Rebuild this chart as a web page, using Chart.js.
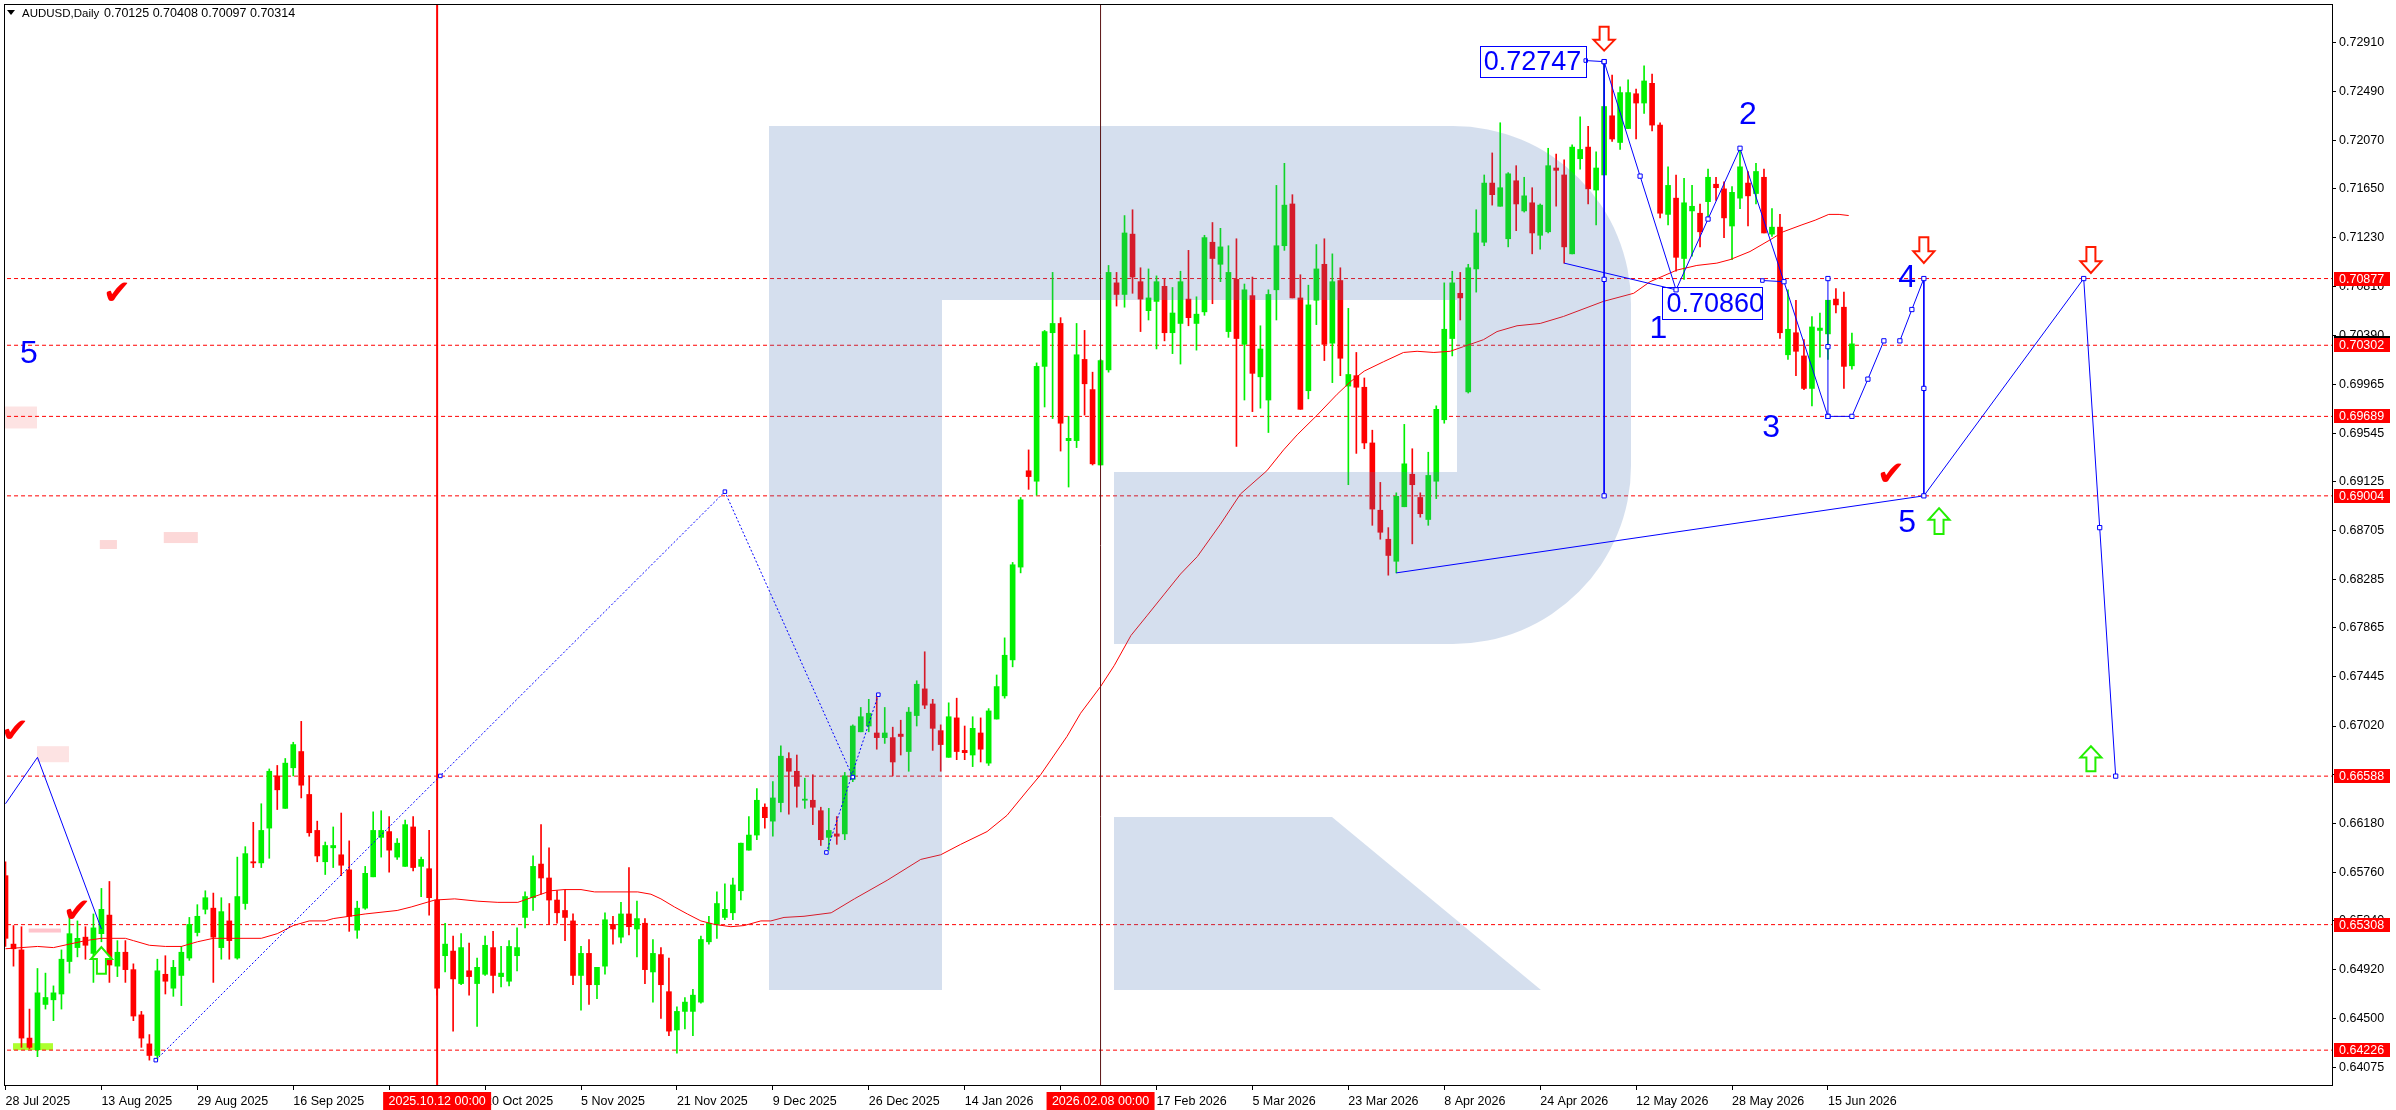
<!DOCTYPE html>
<html>
<head>
<meta charset="utf-8">
<title>AUDUSD Daily</title>
<script src="https://cdn.jsdelivr.net/npm/chart.js@4.4.1/dist/chart.umd.min.js"></script>
<style>
  html, body { margin: 0; padding: 0; background: #fff; }
  #wrap { width: 2396px; height: 1110px; }
</style>
</head>
<body>
<div id="wrap"><canvas id="chart" width="2396" height="1110"></canvas></div>
<script>
// ---- daily candles, bar 0 = 28 Jul 2025, last bar = 18 Jun 2026 ----
const barOpen = [
  0.6573,0.6514,0.6509,0.6433,0.6423,0.6462,0.6466,0.6471,0.6499,0.6511,
  0.6520,0.6506,0.6523,0.6539,0.6495,0.6507,0.6492,0.6453,0.6428,0.6418,
  0.6488,0.6476,0.6487,0.6502,0.6524,0.6544,0.6545,0.6511,0.6534,0.6502,
  0.6549,0.6585,0.6584,0.6614,0.6659,0.6631,0.6666,0.6680,0.6643,0.6612,
  0.6585,0.6597,0.6591,0.6578,0.6526,0.6545,0.6572,0.6606,0.6611,0.6589,
  0.6581,0.6615,0.6581,0.6579,0.6552,0.6504,0.6508,0.6480,0.6491,0.6480,
  0.6488,0.6511,0.6486,0.6482,0.6504,0.6537,0.6554,0.6583,0.6571,0.6552,
  0.6543,0.6534,0.6487,0.6506,0.6479,0.6495,0.6531,0.6520,0.6540,0.6527,
  0.6532,0.6490,0.6505,0.6473,0.6440,0.6456,0.6456,0.6464,0.6516,0.6531,
  0.6537,0.6541,0.6560,0.6595,0.6608,0.6632,0.6620,0.6636,0.6674,0.6663,
  0.6638,0.6638,0.6629,0.6606,0.6609,0.6609,0.6656,0.6697,0.6702,0.6696,
  0.6692,0.6692,0.6695,0.6680,0.6711,0.6734,0.6721,0.6698,0.6675,0.6709,
  0.6681,0.6677,0.6696,0.6670,0.6708,0.6728,0.6759,0.6839,0.6922,0.6913,
  0.7012,0.7041,0.7049,0.6948,0.6948,0.7018,0.6992,0.6927,0.7009,0.7084,
  0.7074,0.7126,0.7085,0.7060,0.7068,0.7081,0.7041,0.7049,0.7070,0.7049,
  0.7059,0.7119,0.7100,0.7042,0.7087,0.7031,0.7073,0.7003,0.6983,0.7078,
  0.7116,0.7152,0.7071,0.6991,0.7069,0.7100,0.7032,0.7086,0.6995,0.7004,
  0.6994,0.6946,0.6888,0.6863,0.6844,0.6891,0.6919,0.6899,0.6880,0.6913,
  0.6966,0.7036,0.7075,0.6990,0.7096,0.7119,0.7170,0.7150,0.7122,0.7172,
  0.7146,0.7153,0.7125,0.7128,0.7183,0.7177,0.7109,0.7191,0.7201,0.7164,
  0.7177,0.7228,0.7205,0.7217,0.7247,0.7239,0.7256,0.7220,0.7143,0.7157,
  0.7105,0.7146,0.7144,0.7154,0.7169,0.7165,0.7133,0.7157,0.7170,0.7161,
  0.7175,0.7126,0.7132,0.7022,0.7041,0.7021,0.6993,0.7043,0.7040,0.7070,
  0.7063,0.70125
];
const barHigh = [
  0.6585,0.6530,0.6529,0.6458,0.6493,0.6489,0.6478,0.6509,0.6540,0.6534,
  0.6529,0.6540,0.6562,0.6568,0.6517,0.6517,0.6497,0.6456,0.6436,0.6501,
  0.6504,0.6500,0.6512,0.6537,0.6548,0.6560,0.6558,0.6554,0.6549,0.6589,
  0.6598,0.6619,0.6635,0.6665,0.6668,0.6674,0.6688,0.6706,0.6659,0.6620,
  0.6602,0.6615,0.6627,0.6603,0.6551,0.6581,0.6628,0.6629,0.6624,0.6605,
  0.6621,0.6624,0.6589,0.6612,0.6553,0.6532,0.6521,0.6523,0.6515,0.6502,
  0.6521,0.6525,0.6512,0.6517,0.6528,0.6559,0.6590,0.6617,0.6597,0.6560,
  0.6561,0.6540,0.6512,0.6518,0.6494,0.6541,0.6538,0.6550,0.6580,0.6551,
  0.6536,0.6518,0.6511,0.6502,0.6460,0.6468,0.6475,0.6521,0.6538,0.6559,
  0.6566,0.6571,0.6601,0.6624,0.6648,0.6635,0.6654,0.6685,0.6679,0.6677,
  0.6657,0.6660,0.6632,0.6631,0.6624,0.6662,0.6703,0.6718,0.6725,0.6728,
  0.6718,0.6701,0.6707,0.6718,0.6741,0.6766,0.6725,0.6703,0.6722,0.6726,
  0.6702,0.6710,0.6709,0.6717,0.6746,0.6778,0.6843,0.6899,0.6940,0.7015,
  0.7043,0.7093,0.7054,0.6969,0.7049,0.7043,0.7007,0.7018,0.7099,0.7093,
  0.7142,0.7147,0.7097,0.7096,0.7090,0.7087,0.7080,0.7094,0.7112,0.7072,
  0.7125,0.7136,0.7131,0.7116,0.7122,0.7083,0.7089,0.7047,0.7078,0.7168,
  0.7187,0.7160,0.7091,0.7082,0.7117,0.7122,0.7109,0.7097,0.7062,0.7024,
  0.7002,0.6957,0.6912,0.6873,0.6903,0.6962,0.6941,0.6903,0.6938,0.6978,
  0.7084,0.7094,0.7093,0.7100,0.7147,0.7177,0.7196,0.7222,0.7179,0.7185,
  0.7175,0.7166,0.7152,0.7200,0.7195,0.7190,0.7203,0.7227,0.7219,0.7197,
  0.7275,0.7263,0.7253,0.7259,0.7251,0.7271,0.7264,0.7222,0.7184,0.7177,
  0.7174,0.7168,0.7152,0.7182,0.7175,0.7171,0.7167,0.7200,0.7180,0.7187,
  0.7182,0.7148,0.7143,0.7078,0.7069,0.7035,0.7055,0.7058,0.7069,0.7079,
  0.7076,0.70408
];
const barLow = [
  0.6512,0.6495,0.6425,0.6424,0.6417,0.6458,0.6448,0.6458,0.6489,0.6503,
  0.6501,0.6481,0.6516,0.6481,0.6486,0.6481,0.6448,0.6425,0.6414,0.6414,
  0.6471,0.6469,0.6461,0.6500,0.6521,0.6540,0.6481,0.6501,0.6501,0.6501,
  0.6544,0.6580,0.6580,0.6588,0.6630,0.6631,0.6659,0.6640,0.6607,0.6585,
  0.6574,0.6580,0.6573,0.6525,0.6519,0.6544,0.6572,0.6589,0.6576,0.6587,
  0.6581,0.6577,0.6555,0.6539,0.6470,0.6490,0.6439,0.6479,0.6470,0.6443,
  0.6487,0.6472,0.6477,0.6478,0.6491,0.6528,0.6543,0.6557,0.6531,0.6532,
  0.6517,0.6479,0.6457,0.6462,0.6467,0.6488,0.6514,0.6515,0.6522,0.6503,
  0.6480,0.6464,0.6450,0.6435,0.6420,0.6441,0.6435,0.6463,0.6514,0.6519,
  0.6535,0.6535,0.6552,0.6595,0.6604,0.6614,0.6607,0.6628,0.6626,0.6632,
  0.6631,0.6617,0.6599,0.6595,0.6600,0.6604,0.6654,0.6697,0.6697,0.6682,
  0.6687,0.6659,0.6677,0.6663,0.6702,0.6717,0.6681,0.6663,0.6675,0.6673,
  0.6673,0.6667,0.6671,0.6668,0.6708,0.6726,0.6753,0.6834,0.6906,0.6901,
  0.6977,0.6967,0.6939,0.6908,0.6942,0.6970,0.6927,0.6927,0.7007,0.7064,
  0.7063,0.7075,0.7042,0.7052,0.7027,0.7034,0.7023,0.7014,0.7047,0.7026,
  0.7056,0.7066,0.7085,0.7037,0.6943,0.6983,0.6973,0.6976,0.6955,0.7052,
  0.7112,0.7071,0.6975,0.6984,0.7048,0.7017,0.6998,0.7004,0.6910,0.6937,
  0.6941,0.6875,0.6863,0.6832,0.6834,0.6891,0.6859,0.6882,0.6875,0.6898,
  0.6963,0.7021,0.7052,0.6989,0.7076,0.7116,0.7151,0.7150,0.7115,0.7129,
  0.7145,0.7109,0.7113,0.7127,0.7150,0.7101,0.7109,0.7182,0.7152,0.7134,
  0.7177,0.7206,0.7199,0.7217,0.7208,0.7230,0.7215,0.7140,0.7134,0.7094,
  0.7087,0.7107,0.7115,0.7140,0.7155,0.7123,0.7104,0.7148,0.7133,0.7152,
  0.7127,0.7124,0.7036,0.7018,0.7004,0.6992,0.6978,0.7020,0.7018,0.7058,
  0.6993,0.70097
];
const barClose = [
  0.6519,0.6510,0.6433,0.6425,0.6472,0.6468,0.6472,0.6501,0.6523,0.6519,
  0.6513,0.6528,0.6544,0.6496,0.6507,0.6492,0.6452,0.6433,0.6418,0.6491,
  0.6482,0.6494,0.6507,0.6531,0.6538,0.6554,0.6520,0.6542,0.6517,0.6555,
  0.6592,0.6584,0.6612,0.6663,0.6647,0.6670,0.6686,0.6651,0.6610,0.6590,
  0.6599,0.6599,0.6582,0.6538,0.6545,0.6575,0.6612,0.6612,0.6595,0.6601,
  0.6617,0.6580,0.6587,0.6554,0.6476,0.6514,0.6484,0.6511,0.6486,0.6494,
  0.6513,0.6487,0.6489,0.6512,0.6511,0.6555,0.6581,0.6571,0.6552,0.6541,
  0.6537,0.6487,0.6506,0.6479,0.6494,0.6535,0.6527,0.6540,0.6529,0.6536,
  0.6492,0.6506,0.6479,0.6439,0.6456,0.6464,0.6470,0.6518,0.6532,0.6549,
  0.6544,0.6565,0.6601,0.6608,0.6638,0.6623,0.6640,0.6676,0.6663,0.6650,
  0.6639,0.6632,0.6604,0.6612,0.6607,0.6659,0.6702,0.6710,0.6713,0.6692,
  0.6696,0.6671,0.6693,0.6714,0.6738,0.6720,0.6700,0.6686,0.6710,0.6680,
  0.6679,0.6700,0.6682,0.6715,0.6736,0.6763,0.6841,0.6897,0.6917,0.7012,
  0.7042,0.7049,0.6963,0.6950,0.7022,0.6997,0.6928,0.7017,0.7093,0.7074,
  0.7127,0.7089,0.7070,0.7071,0.7085,0.7041,0.7058,0.7085,0.7054,0.7057,
  0.7123,0.7105,0.7115,0.7093,0.7036,0.7078,0.7006,0.7027,0.7074,0.7116,
  0.7151,0.7071,0.6975,0.7065,0.7096,0.7031,0.7085,0.7019,0.7005,0.6994,
  0.6946,0.6889,0.6869,0.6849,0.6900,0.6928,0.6910,0.6885,0.6918,0.6975,
  0.7044,0.7084,0.7071,0.7097,0.7127,0.7170,0.7160,0.7166,0.7178,0.7152,
  0.7159,0.7127,0.7151,0.7185,0.7181,0.7115,0.7201,0.7199,0.7165,0.7183,
  0.7236,0.7208,0.7248,0.7248,0.7239,0.7258,0.7220,0.7144,0.7168,0.7106,
  0.7153,0.7150,0.7128,0.7175,0.7166,0.7140,0.7162,0.7184,0.7159,0.7180,
  0.7127,0.7132,0.7041,0.7044,0.7025,0.6993,0.7046,0.7045,0.7069,0.7065,
  0.7012,0.70314
];

// moving average (bar, price)
const maBars = [
  0,4,6,8,10,12,15,16,18,20,22,24,26,32,34,36,38,40,41,43,
  45,49,50.75,53.7,56.2,59.1,61.6,64.1,65.75,68.25,69.9,72,73.7,79.1,80.75,82,83.7,85.3,87,88.7,
  90.75,92.4,94.5,95.75,97.4,99.9,103.3,106.2,110.3,114.5,117,119.5,122.8,125.3,127.8,129.5,131.2,132.8,134.5,137,
  138.7,140.8,142.8,144.9,147,149.1,152,154.5,157.8,159.9,161.6,164.1,166.6,168.3,170,172.4,174.9,176.6,178.7,180.75,
  182.4,184.9,186.6,189.1,192,194.9,199.9,203.7,205.75,209.1,211.6,214.1,215.75,218.25,220.75,222.4,224.75,226.4,228.1,229.4,
  230.6
];
const maValues = [
  0.6510,0.6512,0.6511,0.6514,0.6517,0.6519,0.6519,0.6517,0.6513,0.6512,0.6512,0.6516,0.6519,0.6519,0.6523,0.6530,0.6534,0.6534,0.6536,0.6538,
  0.6540,0.6543,0.6546,0.6552,0.6553,0.6551,0.6550,0.6550,0.6554,0.6560,0.6561,0.6561,0.6559,0.6559,0.6557,0.6553,0.6546,0.6540,0.6534,0.6531,
  0.6529,0.6530,0.6534,0.6534,0.6537,0.6538,0.6541,0.6553,0.6569,0.6587,0.6591,0.6600,0.6611,0.6625,0.6646,0.6660,0.6677,0.6693,0.6713,0.6736,
  0.6754,0.6780,0.6797,0.6815,0.6833,0.6848,0.6876,0.6902,0.6922,0.6940,0.6953,0.6970,0.6988,0.6999,0.7008,0.7016,0.7024,0.7025,0.7024,0.7025,
  0.7029,0.7035,0.7042,0.7047,0.7049,0.7055,0.7068,0.7075,0.7085,0.7095,0.7099,0.7101,0.7104,0.7111,0.7121,0.7128,0.7134,0.7138,0.7143,0.7143,
  0.7142
];

// horizontal levels and axis ticks
const levelValues = [0.70877, 0.70302, 0.69689, 0.69004, 0.66588, 0.65308, 0.64226];
const yTickValues = [0.72910,0.72490,0.72070,0.71650,0.71230,0.70810,0.70390,0.69965,0.69545,0.69125,0.68705,
                     0.68285,0.67865,0.67445,0.67020,0.66600,0.66180,0.65760,0.65340,0.64920,0.64500,0.64075];
const xTickBars = [0,12,24,36,48,60,72,84,96,108,120,132,144,156,168,180,192,204,216,228];
const xTickLabels = ['28 Jul 2025','13 Aug 2025','29 Aug 2025','16 Sep 2025','2 Oct 2025','20 Oct 2025','5 Nov 2025',
  '21 Nov 2025','9 Dec 2025','26 Dec 2025','14 Jan 2026','30 Jan 2026','17 Feb 2026','5 Mar 2026','23 Mar 2026',
  '8 Apr 2026','24 Apr 2026','12 May 2026','28 May 2026','15 Jun 2026'];
const vLineBars = [54, 137];
const vLineLabels = ['2025.10.12 00:00', '2026.02.08 00:00'];

// wave markup (bar, price); a null price breaks the line
const waveBars   = [200, 204.5, 209, 213, 217, 222.5, 228, 231, 233, 235, 236, 237, 238.5, 240, 240, 240, 260, 262, 264];
const wavePrices = [0.72747, 0.7176, 0.7078, 0.7139, 0.7200, 0.7085, 0.69689, 0.69689, 0.7001, 0.7034, null,
                    0.7034, 0.7061, 0.70877, 0.6993, 0.69004, 0.70877, 0.6873, 0.66588];
const peakDropBars = [200, 200, 200];
const peakDropPrices = [0.72747, 0.7087, 0.69004];
const wave3Bars = [228, 228, 228];
const wave3Prices = [0.69689, 0.7029, 0.70877];
const trendBars = [195, 209];
const trendPrices = [0.7101, 0.7078];
const baseBars = [174, 240];
const basePrices = [0.6834, 0.69004];
const oldWaveBars = [0, 4, 12];
const oldWavePrices = [0.6635, 0.6675, 0.6527];
const dotBars = [18.8, 54.4, 90, 106];
const dotPrices = [0.6414, 0.6659, 0.6904, 0.6658];
const dot2Bars = [102.7, 109.2];
const dot2Prices = [0.6593, 0.6729];

const waveLabelText = ['5', '1', '2', '3', '4', '5'];
const waveLabelBars = [2.94, 206.8, 218.0, 220.9, 237.9, 237.9];
const waveLabelPrices = [0.70153, 0.70367, 0.72213, 0.69508, 0.70802, 0.68692];

const priceLabelText = ['0.72747', '0.70860'];
const priceLabelLeft = [184.44, 207.3];
const priceLabelRight = [197.7, 219.8];
const priceLabelTop = [0.72885, 0.70802];
const priceLabelBottom = [0.72614, 0.70525];
const priceLinkBars = [[197.7, 200], [219.8, 222.5]];
const priceLinkPrices = [[0.72756, 0.72747], [0.7086, 0.7085]];

const arrowBars = [200, 240, 260.9, 241.9, 260.9, 12.0];
const arrowTop = [0.73048, 0.71234, 0.71148, 0.68898, 0.66846, 0.65114];
const arrowBottom = [0.72842, 0.71011, 0.70925, 0.68675, 0.66631, 0.64885];
const arrowUp = [false, false, false, true, true, true];

const checkBars = [1.19, 8.94, 13.94, 235.9];
const checkPrices = [0.66957, 0.65407, 0.70731, 0.69177];

const boxBarFrom = [3.94, 2.9, -0.06, 11.8, 19.8, 0.94];
const boxBarTo = [7.94, 6.94, 3.94, 13.94, 24.06, 5.94];
const boxTop = [0.66846, 0.65274, 0.69774, 0.68623, 0.68692, 0.64286];
const boxBottom = [0.66708, 0.65240, 0.69585, 0.68546, 0.68597, 0.64226];
const boxColor = ['#fde3e3', '#ffc4cc', '#fde3e3', '#fcd8d8', '#fcd8d8', '#adff2f'];

// ---- layout ----
const X_MIN = -0.0625, X_MAX = 291.0625;
const Y_MIN = 0.63917, Y_MAX = 0.73235;
const FONT = '"Liberation Sans", Arial, sans-serif';
const UP = '#00f000', DOWN = '#ff0000', BLUE = '#0000ff';

Chart.defaults.font.family = FONT;
Chart.defaults.font.size = 12.5;
Chart.defaults.color = '#000';

const candleColor = barClose.map((c, i) => c >= barOpen[i] ? UP : DOWN);

function pts(xs, ys) { return xs.map((b, i) => ({ x: b, y: ys[i] })); }
function blueLine(xs, ys, marks, dash, order) {
  return {
    type: 'line', data: pts(xs, ys), borderColor: BLUE, borderWidth: 1, borderDash: dash || [],
    pointStyle: 'rect', pointRadius: marks, pointBackgroundColor: '#fff', pointBorderColor: BLUE,
    pointBorderWidth: 1, spanGaps: false, tension: 0, order: order
  };
}

const datasets = [];
levelValues.forEach(v => datasets.push({
  type: 'line', data: [{ x: X_MIN - 5, y: v }, { x: X_MAX + 5, y: v }],
  borderColor: '#ff0000', borderWidth: 1, borderDash: [4, 3], pointRadius: 0, order: 100
}));
datasets.push({
  type: 'bar', data: barLow.map((l, i) => ({ x: i, y: [l, barHigh[i]] })),
  backgroundColor: candleColor, barThickness: 1, grouped: false, minBarLength: 1, order: 90
});
datasets.push({
  type: 'bar', data: barOpen.map((o, i) => ({ x: i, y: [o, barClose[i]] })),
  backgroundColor: candleColor, barThickness: 5, grouped: false, minBarLength: 1, order: 80
});
const MA_INDEX = datasets.length;
datasets.push({
  type: 'line', data: pts(maBars, maValues), borderColor: '#ff0000', borderWidth: 1,
  pointRadius: 0, tension: 0, order: 70
});
vLineBars.forEach((b, k) => datasets.push({
  type: 'line', data: [{ x: b, y: Y_MIN - 1 }, { x: b, y: Y_MAX + 1 }],
  borderColor: k === 0 ? '#ff0000' : '#5a1414', borderWidth: k === 0 ? 2 : 1, pointRadius: 0, order: 60
}));
datasets.push(blueLine(oldWaveBars, oldWavePrices, 0, null, 50));
datasets.push(blueLine(dotBars, dotPrices, 2.5, [2, 2], 50));
datasets.push(blueLine(dot2Bars, dot2Prices, 2.5, [2, 2], 50));
datasets.push(blueLine(baseBars, basePrices, 0, null, 50));
datasets.push(blueLine(trendBars, trendPrices, 0, null, 50));
datasets.push(blueLine(peakDropBars, peakDropPrices, 3, null, 40));
datasets.push(blueLine(wave3Bars, wave3Prices, 3, null, 40));
datasets.push(blueLine(waveBars, wavePrices, 3, null, 30));
priceLinkBars.forEach((xs, k) => datasets.push(blueLine(xs, priceLinkPrices[k], [2.5, 0], null, 30)));

// logo outline in canvas pixels
function drawLogo(chart) {
  const { ctx, chartArea: a } = chart;
  const dx = a.left - 3, dy = a.top - 1;
  ctx.save();
  ctx.beginPath(); ctx.rect(a.left, a.top, a.width, a.height); ctx.clip();
  ctx.translate(dx, dy);
  ctx.fillStyle = 'rgba(74,117,183,0.23)';
  ctx.beginPath();
  ctx.moveTo(767, 122);
  ctx.lineTo(1451, 122);
  ctx.arcTo(1629, 122, 1629, 300, 178);
  ctx.lineTo(1629, 462);
  ctx.arcTo(1629, 640, 1451, 640, 178);
  ctx.lineTo(1112, 640);
  ctx.lineTo(1112, 468);
  ctx.lineTo(1455, 468);
  ctx.lineTo(1455, 296);
  ctx.lineTo(940, 296);
  ctx.lineTo(940, 986);
  ctx.lineTo(767, 986);
  ctx.closePath();
  ctx.moveTo(1112, 813);
  ctx.lineTo(1330, 813);
  ctx.lineTo(1539, 986);
  ctx.lineTo(1112, 986);
  ctx.closePath();
  ctx.fill();
  ctx.restore();
}

function blockArrow(ctx, cx, top, bottom, up, color) {
  const h = bottom - top, hw = 10.5, sw = 4.5;
  ctx.beginPath();
  if (up) {
    const hs = top + h * 0.45;
    ctx.moveTo(cx, top); ctx.lineTo(cx + hw, hs); ctx.lineTo(cx + sw, hs); ctx.lineTo(cx + sw, bottom);
    ctx.lineTo(cx - sw, bottom); ctx.lineTo(cx - sw, hs); ctx.lineTo(cx - hw, hs);
  } else {
    const hs = top + h * 0.55;
    ctx.moveTo(cx - sw, top); ctx.lineTo(cx + sw, top); ctx.lineTo(cx + sw, hs); ctx.lineTo(cx + hw, hs);
    ctx.lineTo(cx, bottom); ctx.lineTo(cx - hw, hs); ctx.lineTo(cx - sw, hs);
  }
  ctx.closePath();
  ctx.fillStyle = '#fff'; ctx.fill();
  ctx.lineJoin = 'miter'; ctx.lineWidth = 2; ctx.strokeStyle = color; ctx.stroke();
}

const overlay = {
  id: 'overlay',
  beforeDatasetsDraw(chart) {
    const { ctx, chartArea: a, scales: { x, y } } = chart;
    ctx.save();
    ctx.beginPath(); ctx.rect(a.left, a.top, a.width, a.height); ctx.clip();
    boxColor.forEach((c, k) => {
      const x0 = x.getPixelForValue(boxBarFrom[k]), x1 = x.getPixelForValue(boxBarTo[k]);
      const y0 = y.getPixelForValue(boxTop[k]), y1 = y.getPixelForValue(boxBottom[k]);
      ctx.fillStyle = c;
      ctx.fillRect(x0, y0, x1 - x0, y1 - y0);
    });
    ctx.restore();
  },
  afterDatasetDraw(chart, args) {
    if (args.index === MA_INDEX) drawLogo(chart);
  },
  afterDatasetsDraw(chart) {
    const { ctx, chartArea: a, scales: { x, y } } = chart;
    ctx.save();
    ctx.beginPath(); ctx.rect(a.left, a.top, a.width, a.height); ctx.clip();
    // price label boxes
    priceLabelText.forEach((t, k) => {
      const x0 = x.getPixelForValue(priceLabelLeft[k]), x1 = x.getPixelForValue(priceLabelRight[k]);
      const y0 = y.getPixelForValue(priceLabelTop[k]), y1 = y.getPixelForValue(priceLabelBottom[k]);
      ctx.strokeStyle = BLUE; ctx.lineWidth = 1;
      ctx.strokeRect(Math.round(x0) + 0.5, Math.round(y0) + 0.5, Math.round(x1 - x0), Math.round(y1 - y0));
      ctx.fillStyle = BLUE; ctx.font = '27px ' + FONT;
      ctx.textAlign = 'left'; ctx.textBaseline = 'middle';
      ctx.fillText(t, x0 + 4, (y0 + y1) / 2 + 1);
    });
    // wave numbers
    ctx.font = '32px ' + FONT; ctx.fillStyle = BLUE; ctx.textAlign = 'center'; ctx.textBaseline = 'alphabetic';
    waveLabelText.forEach((t, k) => {
      ctx.fillText(t, x.getPixelForValue(waveLabelBars[k]), y.getPixelForValue(waveLabelPrices[k]));
    });
    // arrows
    arrowBars.forEach((b, k) => {
      blockArrow(ctx, x.getPixelForValue(b), y.getPixelForValue(arrowTop[k]), y.getPixelForValue(arrowBottom[k]),
        arrowUp[k], arrowUp[k] ? '#22ee00' : '#ff1a00');
    });
    // check marks
    ctx.font = '34px "DejaVu Sans", sans-serif'; ctx.fillStyle = '#ff0000';
    ctx.textAlign = 'center'; ctx.textBaseline = 'middle';
    checkBars.forEach((b, k) => ctx.fillText('\u2714', x.getPixelForValue(b), y.getPixelForValue(checkPrices[k])));
    ctx.restore();
  },
  afterDraw(chart) {
    const { ctx, chartArea: a, scales: { x, y } } = chart;
    ctx.save();
    // frame
    ctx.strokeStyle = '#000'; ctx.lineWidth = 1;
    ctx.strokeRect(a.left - 0.5, a.top - 0.5, a.width + 1, a.height);
    // title
    ctx.fillStyle = '#000';
    ctx.beginPath(); ctx.moveTo(7, 10); ctx.lineTo(15, 10); ctx.lineTo(11, 15); ctx.closePath(); ctx.fill();
    ctx.textAlign = 'left'; ctx.textBaseline = 'alphabetic';
    ctx.font = '11.5px ' + FONT;
    ctx.fillText('AUDUSD,Daily', 22, 17);
    ctx.font = '12.5px ' + FONT;
    ctx.fillText([barOpen, barHigh, barLow, barClose].map(s => s[s.length - 1].toFixed(5)).join(' '), 104, 17);
    // level tags on price axis
    ctx.textBaseline = 'middle';
    levelValues.forEach((v, k) => {
      const yy = Math.round(y.getPixelForValue(v));
      if (k === 1) { ctx.fillStyle = '#000'; ctx.fillRect(a.right + 2, yy - 9, 56, 2); }
      ctx.fillStyle = '#ff0000'; ctx.fillRect(a.right + 2, yy - 7, 56, 14);
      ctx.fillStyle = '#fff'; ctx.fillText(v.toFixed(5), a.right + 7, yy + 0.5);
    });
    // vertical line tags on time axis
    ctx.textAlign = 'center';
    vLineBars.forEach((b, k) => {
      const xx = x.getPixelForValue(b);
      ctx.fillStyle = '#ff0000'; ctx.fillRect(xx - 54, a.bottom + 6, 108, 18);
      ctx.fillStyle = '#fff'; ctx.fillText(vLineLabels[k], xx, a.bottom + 15.5);
    });
    ctx.restore();
  }
};

new Chart(document.getElementById('chart'), {
  type: 'bar',
  data: { datasets },
  options: {
    responsive: false, maintainAspectRatio: false, devicePixelRatio: 1, animation: false, events: [],
    layout: { padding: { left: 3, top: 1, right: 0, bottom: 0 } },
    plugins: { legend: { display: false }, tooltip: { enabled: false } },
    scales: {
      x: {
        type: 'linear', min: X_MIN, max: X_MAX, offset: false, position: 'bottom',
        grid: { drawOnChartArea: false, drawTicks: true, tickLength: 4, color: '#000', offset: false },
        border: { display: false },
        ticks: { autoSkip: false, maxRotation: 0, minRotation: 0, align: 'start', padding: 4, color: '#000',
                 callback: (v, i) => xTickLabels[i] },
        afterBuildTicks: s => { s.ticks = xTickBars.map(v => ({ value: v })); },
        afterFit: s => { s.height = 24; s.paddingLeft = 0; s.paddingRight = 0; }
      },
      y: {
        type: 'linear', min: Y_MIN, max: Y_MAX, position: 'right',
        grid: { drawOnChartArea: false, drawTicks: true, tickLength: 4, color: '#000' },
        border: { display: false },
        ticks: { autoSkip: false, padding: 3, color: '#000', callback: v => v.toFixed(5) },
        afterBuildTicks: s => { s.ticks = yTickValues.map(v => ({ value: v })); },
        afterFit: s => { s.width = 64; s.paddingTop = 0; s.paddingBottom = 0; }
      }
    }
  },
  plugins: [overlay]
});
</script>
</body>
</html>
